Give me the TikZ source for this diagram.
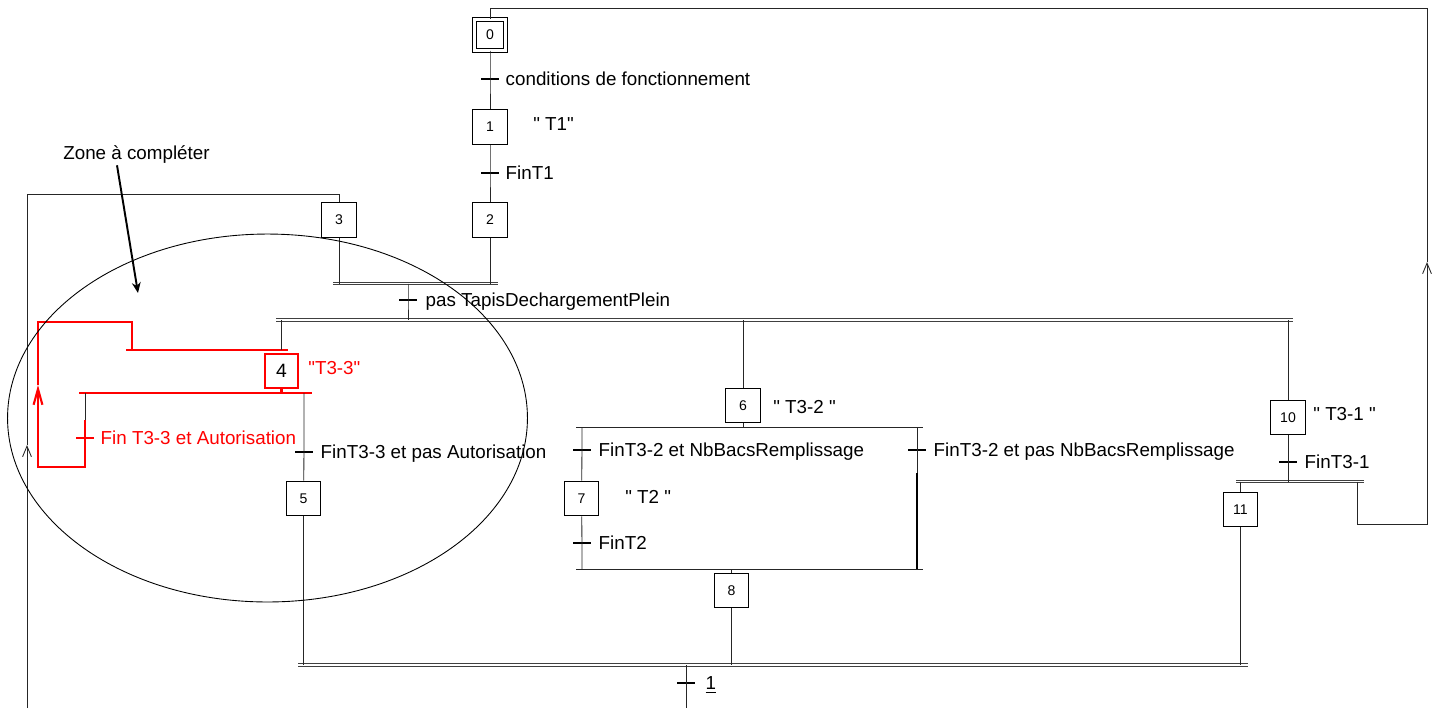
\documentclass[tikz,border=0pt]{standalone}
\usepackage{fontspec}
\setmainfont{Liberation Sans}[Ligatures=TeXOff]
\usetikzlibrary{arrows.meta,positioning,calc}

\begin{document}
\begin{tikzpicture}[
    x=0.02cm, y=-0.02cm,
    etape/.style={draw, line width=0.6pt, minimum size=0.69cm, inner sep=0pt, font=\fontsize{8}{9}\selectfont},
    etapeinit/.style={etape, double, double distance=1.6pt, line width=0.5pt, minimum size=0.61cm},
    trans/.style={fill=black, inner sep=0pt, minimum width=0.36cm, minimum height=1.3pt},
    lbl/.style={font=\fontsize{10.7}{12}\selectfont, inner sep=0pt, text height=7.6pt, text depth=0pt, anchor=west},
    lien/.style={line width=0.5pt, draw=black!85},
    barre/.style={double, double distance=1.1pt, line width=0.55pt, draw=black!75},
    fl/.style={lien, -{Straight Barb[length=6pt, width=5pt]}},
    rouge/.style={draw=red, line width=1.2pt}
]
\useasboundingbox (0,0) rectangle (1436,708);

\node[etapeinit] (s0) at (490,35) {0};
\node[etape] (s1) at (490,127) {1};
\node[etape] (s2) at (490,220) {2};
\node[etape] (s3) at (339,220) {3};
\node[etape, draw=red, line width=1.2pt, minimum width=0.66cm, minimum height=0.68cm, font=\fontsize{11}{12}\selectfont] (s4) at (281.5,371) {4};
\node[etape] (s5) at (303.5,498.5) {5};
\node[etape] (s6) at (743,405.5) {6};
\node[etape] (s7) at (581.5,498.5) {7};
\node[etape] (s8) at (731.5,590.5) {8};
\node[etape] (s10) at (1288,417.5) {10};
\node[etape] (s11) at (1240.5,509.5) {11};

\node[lbl] (a1) at (533,124) {" T1"};
\node[lbl, red] (a4) at (308,368) {"T3-3"};
\node[lbl] (a6) at (773,407) {" T3-2 "};
\node[lbl] (a7) at (625,497) {" T2 "};
\node[lbl] (a10) at (1313,414) {" T3-1 "};

\coordinate (b1g) at (333,283.5); \coordinate (b1d) at (498,283.5);
\coordinate (b2g) at (276,320); \coordinate (b2d) at (1293,320);
\coordinate (b3g) at (1236,481.5); \coordinate (b3d) at (1364,481.5);
\coordinate (b4g) at (298,665); \coordinate (b4d) at (1248,665);
\coordinate (o1g) at (576,427.5); \coordinate (o1d) at (923,427.5);
\coordinate (o2g) at (576,569); \coordinate (o2d) at (923,569);
\coordinate (r1g) at (126,350); \coordinate (r1d) at (288,350);
\coordinate (r2g) at (79,393); \coordinate (r2d) at (312,393);

\draw[barre] (b1g) -- (b1d);
\draw[barre] (b2g) -- (b2d);
\draw[barre] (b3g) -- (b3d);
\draw[barre] (b4g) -- (b4d);
\draw[lien] (o1g) -- (o1d);
\draw[lien] (o2g) -- (o2d);
\draw[rouge] (r1g) -- (r1d);
\draw[rouge] (r2g) -- (r2d);

\node[trans] (t0) at (490,79) {};
\node[lbl, right=0.12cm of t0] (l0) {conditions de fonctionnement};
\node[trans] (t1) at (490,173) {};
\node[lbl, right=0.12cm of t1] (l1) {FinT1};
\node[trans] (t2) at (408,300) {};
\node[lbl, right=0.16cm of t2] (l2) {pas TapisDechargementPlein};
\node[trans, fill=red] (t4r) at (85,438) {};
\node[lbl, red, right=0.12cm of t4r] (l4r) {Fin T3-3 et Autorisation};
\node[trans] (t4) at (304,452) {};
\node[lbl, right=0.14cm of t4] (l4) {FinT3-3 et pas Autorisation};
\node[trans] (t6a) at (582,450) {};
\node[lbl, right=0.14cm of t6a] (l6a) {FinT3-2 et NbBacsRemplissage};
\node[trans] (t6b) at (917,450) {};
\node[lbl, right=0.14cm of t6b] (l6b) {FinT3-2 et pas NbBacsRemplissage};
\node[trans] (t7) at (582,543) {};
\node[lbl, right=0.14cm of t7] (l7) {FinT2};
\node[trans] (t10) at (1288,462) {};
\node[lbl, right=0.14cm of t10] (l10) {FinT3-1};
\node[trans] (t11) at (686,683) {};
\node[lbl, right=0.2cm of t11] (l11) {\underline{1}};

\draw[lien] (s0) -- (t0.center) -- (s1) -- (t1.center) -- (s2);
\draw[lien] (s2) -- (s2 |- b1g);
\draw[lien] (s3) -- (s3 |- b1g);
\draw[lien] (t2.center |- b1g) -- (t2.center) -- (t2.center |- b2g);
\draw[lien] (s4 |- b2g) -- (s4 |- r1g);
\draw[rouge] (s4) -- (s4 |- r2g);
\draw[lien] (t4.center |- r2g) -- (t4.center) -- (s5);
\draw[lien] (s5) -- (s5 |- b4g);
\draw[lien] (s6 |- b2g) -- (s6);
\draw[lien] (s6) -- (s6 |- o1g);
\draw[lien] (t6a.center |- o1g) -- (t6a.center) -- (s7) -- (t7.center) -- (t7.center |- o2g);
\coordinate (ep) at (917,473);
\draw[lien] (t6b.center |- o1g) -- (t6b.center) -- (ep);
\draw[line width=1.2pt] (ep) -- (ep |- o2g);
\draw[lien] (s8 |- o2g) -- (s8);
\draw[lien] (s8) -- (s8 |- b4g);
\draw[lien] (s10 |- b2g) -- (s10) -- (t10.center) -- (t10.center |- b3g);
\draw[lien] (s11 |- b3g) -- (s11) -- (s11 |- b4g);
\coordinate (fin1) at (686,708);
\draw[lien] (t11.center |- b4g) -- (t11.center) -- (fin1);

\coordinate (rd) at (85,420);
\coordinate (rcoin) at (38,467);
\coordinate (rfl) at (38,385);
\coordinate (rhaut) at (38,322);
\coordinate (rh) at (132,350);
\draw[lien] (t4r.center |- r2g) -- (rd);
\draw[rouge, -{Straight Barb[length=9pt, width=5pt]}] (rd) |- (rcoin) -- (rfl);
\draw[rouge] (rfl) -- (rhaut) -| (rh);

\coordinate (gbas) at (27,708);
\coordinate (gfl) at (27,445);
\draw[fl] (gbas) -- (gfl);
\draw[lien] (gfl) |- ($(s3.north)+(0,-8)$) -- (s3.north);

\coordinate (db) at (1357,481.5);
\coordinate (dcoin) at (1427,524);
\coordinate (dfl) at (1427,262);
\draw[fl] (db) |- (dcoin) -- (dfl);
\draw[lien] (dfl) |- ($(s0.north)+(0,-11)$) -- (s0.north);

\node[lbl, anchor=center] (zone) at (136.5,153) {Zone à compléter};
\coordinate (cible) at (138,293);
\draw[line width=1.1pt, -{Stealth[length=6pt, width=5pt]}] ([xshift=-0.39cm, yshift=-3pt]zone.south) -- (cible);

\draw[line width=0.5pt] (267.5,418) ellipse [x radius=5.2cm, y radius=3.68cm];
\end{tikzpicture}
\end{document}
